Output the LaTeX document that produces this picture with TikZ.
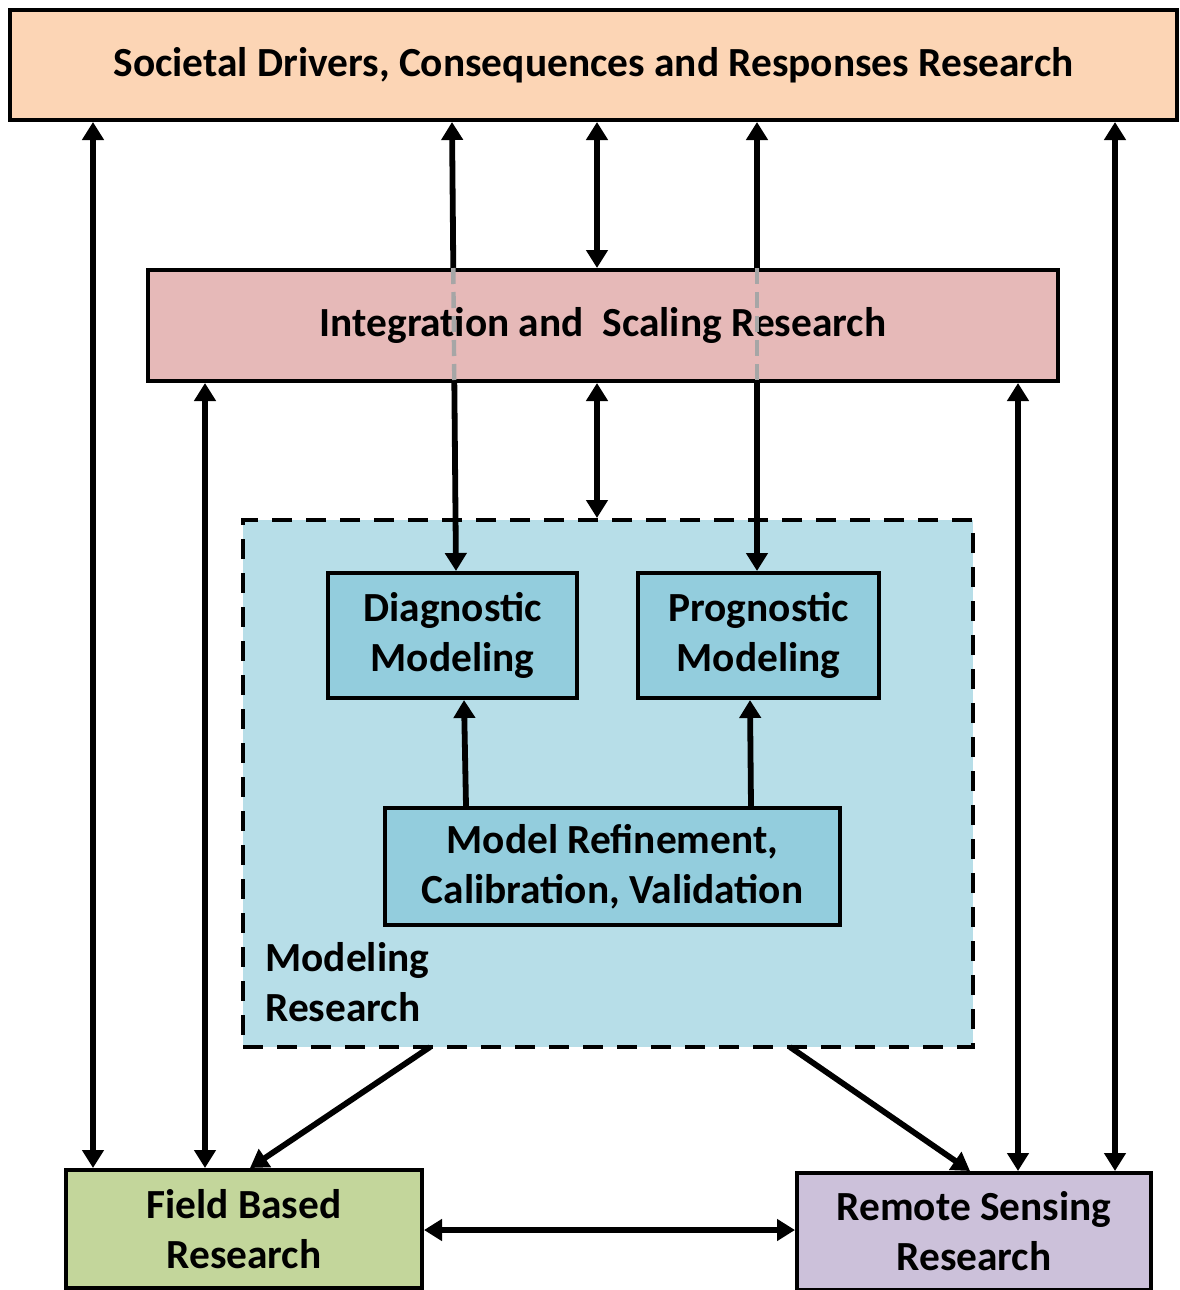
\documentclass[tikz,border=0pt]{standalone}
\usepackage{fontspec}
\setmainfont{Carlito}
\usetikzlibrary{arrows.meta}

\definecolor{socfill}{HTML}{FCD5B5}
\definecolor{intfill}{HTML}{E6B9B8}
\definecolor{modfill}{HTML}{B7DEE8}
\definecolor{subfill}{HTML}{93CDDD}
\definecolor{fieldfill}{HTML}{C3D69B}
\definecolor{rsfill}{HTML}{CCC1DA}

\begin{document}
\begin{tikzpicture}[x=0.5pt, y=-0.5pt, >={Triangle[length=9pt,width=10.5pt]},
    box/.style={draw, line width=2pt, inner sep=0pt, align=center,
        font=\fontsize{20.7}{25}\selectfont\bfseries},
    link/.style={<->, line width=2.9pt},
    oneway/.style={->, line width=2.9pt}]
    \useasboundingbox (0,0) rectangle (1179,1290);
    % Research areas
    \node[box, fill=socfill, minimum width=583.5pt, minimum height=55pt] (soc) at (593.5,65)
        {Societal Drivers, Consequences and Responses Research};
    \node[box, fill=modfill, dashed, dash pattern=on 10pt off 7pt, minimum width=365pt, minimum height=263.5pt] (model) at (608,783.5) {};
    \node[box, fill=subfill, minimum width=124.5pt, minimum height=62.5pt] (diag) at (452.5,635.5) {Diagnostic\\Modeling};
    \node[box, fill=subfill, minimum width=120.5pt, minimum height=62.5pt] (prog) at (758.5,635.5) {Prognostic\\Modeling};
    \node[box, fill=subfill, minimum width=227.5pt, minimum height=58.5pt] (refine) at (612.5,866.5)
        {Model Refinement,\\Calibration, Validation};
    \node[anchor=north west, align=left, inner sep=0pt, font=\fontsize{20.7}{25}\selectfont\bfseries] (mlabel) at (265,942)
        {Modeling\\Research};
    \node[box, fill=fieldfill, minimum width=178pt, minimum height=59pt] (field) at (244,1229) {Field Based\\Research};
    \node[box, fill=rsfill, minimum width=177pt, minimum height=58.5pt] (rs) at (974,1231.5) {Remote Sensing\\Research};
    % Columns for the vertical links
    \coordinate (c1) at (93,0);
    \coordinate (c2) at (205,0);
    \coordinate (c3) at (452,0);
    \coordinate (c3b) at (456,0);
    \coordinate (c4) at (597,0);
    \coordinate (c5) at (757,0);
    \coordinate (c6) at (1018,0);
    \coordinate (c7) at (1115,0);
    % Links that run behind the integration box
    \draw[link] (soc.south -| c3) -- (diag.north -| c3b);
    \draw[link] (soc.south -| c5) -- (prog.north -| c5);
    \node[box, fill=intfill, minimum width=455pt, minimum height=55.5pt] (integ) at (603,325.5)
        {Integration and\ \ Scaling Research};
    \draw[gray!70, line width=2.2pt, dashed, dash pattern=on 8pt off 4pt] (integ.north -| 453.3,0) -- (integ.south -| 454.3,0);
    \draw[gray!70, line width=2.2pt, dashed, dash pattern=on 8pt off 4pt] (integ.north -| c5) -- (integ.south -| c5);
    % Other links
    \draw[link] (soc.south -| c1) -- (field.north -| c1);
    \draw[link] (integ.south -| c2) -- (field.north -| c2);
    \draw[link] (soc.south -| c4) -- (integ.north -| c4);
    \draw[link] (integ.south -| c4) -- (model.north -| c4);
    \draw[link] (integ.south -| c6) -- (rs.north -| c6);
    \draw[link] (soc.south -| c7) -- (rs.north -| c7);
    \draw[link] (field.east |- 0,1230) -- (rs.west |- 0,1230);
    \coordinate (m1) at (430,1047);
    \coordinate (m2) at (790,1047);
    \draw[oneway] (m1) -- (field.north -| 250,0);
    \draw[oneway] (m2) -- (rs.north -| 970,0);
    \draw[oneway] (refine.north -| 466,0) -- (diag.south -| 464,0);
    \draw[oneway] (refine.north -| 751,0) -- (prog.south -| 750,0);
\end{tikzpicture}
\end{document}
